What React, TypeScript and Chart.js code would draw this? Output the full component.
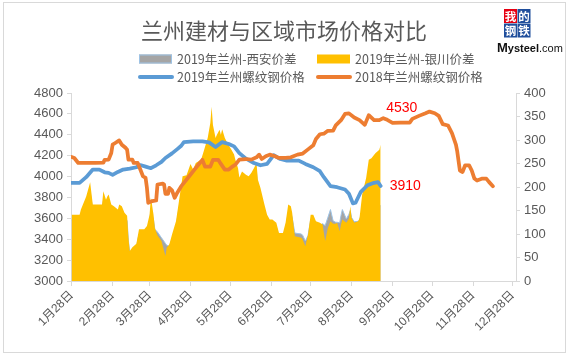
import React, { useEffect, useRef } from "react";
import { Chart, registerables } from "chart.js";

Chart.register(...registerables);

// ---------- text ----------
const TITLE = "兰州建材与区域市场价格对比";
const SERIES_NAMES = [
  "2019年兰州-西安价差",
  "2019年兰州-银川价差",
  "2019年兰州螺纹钢价格",
  "2018年兰州螺纹钢价格",
];

// ---------- axes ----------
const X_TICK_DATES = ["01-28", "02-28", "03-28", "04-28", "05-28", "06-28", "07-28", "08-28", "09-28", "10-28", "11-28", "12-28"];
const X_TICK_LABELS = ["1月28日", "2月28日", "3月28日", "4月28日", "5月28日", "6月28日", "7月28日", "8月28日", "9月28日", "10月28日", "11月28日", "12月28日"];
const PRICE_AXIS = { min: 3000, max: 4800, step: 200 };
const SPREAD_AXIS = { min: 0, max: 400, step: 50 };

// ---------- spreads (right axis) ----------
const spreadDates = [
  "01-28", "02-03", "02-04", "02-08", "02-11", "02-13", "02-20", "02-21", "02-23", "02-24",
  "02-25", "02-27", "03-01", "03-04", "03-05", "03-07", "03-09", "03-11", "03-12", "03-13",
  "03-15", "03-18", "03-20", "03-24", "03-26", "03-28", "03-29", "03-31", "04-01", "04-03",
  "04-06", "04-09", "04-10", "04-12", "04-14", "04-17", "04-19", "04-22", "04-25", "04-28",
  "04-30", "05-02", "05-06", "05-08", "05-11", "05-13", "05-14", "05-15", "05-17", "05-18",
  "05-20", "05-21", "05-22", "05-24", "05-26", "05-29", "05-31", "06-01", "06-03", "06-04",
  "06-06", "06-09", "06-11", "06-13", "06-15", "06-17", "06-18", "06-20", "06-23", "06-25",
  "06-27", "06-29", "07-02", "07-04", "07-07", "07-09", "07-11", "07-13", "07-14", "07-16",
  "07-21", "07-22", "07-24", "07-26", "07-28", "07-30", "08-01", "08-04", "08-06", "08-08",
  "08-10", "08-12", "08-14", "08-16", "08-17", "08-19", "08-20", "08-21", "08-24", "08-26",
  "08-27", "08-28", "08-30", "09-02", "09-03", "09-05", "09-08", "09-10", "09-12", "09-15",
  "09-18", "09-19",
];
const spreadXian = [
  130, 128, 135, 160, 190, 150, 152, 170, 160, 165,
  170, 150, 148, 140, 150, 148, 135, 128, 85, 60,
  66, 72, 100, 100, 108, 128, 150, 130, 110, 104,
  92, 80, 76, 74, 90, 115, 150, 200, 205, 225,
  220, 230, 240, 255, 280, 300, 320, 300, 285, 290,
  300, 295, 300, 285, 275, 262, 252, 242, 225, 205,
  215, 210, 208, 212, 222, 230, 200, 185, 150, 130,
  120, 120, 115, 95, 95, 112, 145, 145, 135, 102,
  100, 97, 85, 97, 130, 130, 120, 118, 122, 118,
  135, 152, 128, 125, 125, 124, 140, 152, 132, 142,
  150, 135, 126, 127, 130, 150, 155, 158, 158, 160,
  160, 160,
];
const spreadYinchuan = [
  141, 141, 152, 180, 210, 163, 163, 191, 173, 180,
  184, 163, 159, 152, 163, 159, 145, 139, 92, 64,
  72, 79, 110, 110, 117, 141, 178, 141, 113, 97,
  85, 53, 71, 78, 99, 127, 165, 223, 225, 249,
  237, 251, 258, 276, 304, 336, 371, 332, 304, 311,
  322, 311, 323, 304, 293, 279, 269, 258, 240, 220,
  233, 226, 223, 230, 240, 251, 216, 198, 163, 141,
  131, 131, 124, 102, 102, 124, 163, 159, 145, 95,
  92, 88, 74, 99, 141, 141, 127, 124, 120, 85,
  113, 127, 122, 122, 124, 106, 120, 131, 124, 133,
  159, 134, 124, 127, 134, 184, 219, 258, 261, 272,
  279, 290,
];

// ---------- 2019 rebar price (left axis) ----------
const price2019Dates = [
  "01-28", "02-03", "02-08", "02-13", "02-18", "02-22", "02-25", "02-28", "03-04", "03-08",
  "03-13", "03-18", "03-21", "03-25", "03-29", "04-02", "04-06", "04-09", "04-14", "04-18",
  "04-21", "04-23", "04-30", "05-07", "05-12", "05-17", "05-22", "05-27", "05-31", "06-04",
  "06-09", "06-15", "06-20", "06-25", "06-30", "07-05", "07-10", "07-19", "07-24", "07-30",
  "08-04", "08-07", "08-12", "08-17", "08-23", "08-26", "08-29", "08-31", "09-04", "09-09",
  "09-14", "09-17", "09-19",
];
const price2019 = [
  3940, 3940, 3994, 4067, 4067, 4041, 4035, 4016, 4044, 4067,
  4076, 4089, 4110, 4095, 4080, 4108, 4140, 4178, 4222, 4263,
  4295, 4330, 4337, 4337, 4327, 4283, 4330, 4311, 4289, 4225,
  4171, 4130, 4108, 4121, 4205, 4168, 4152, 4152, 4121, 4089,
  4051, 3994, 3908, 3898, 3876, 3835, 3743, 3749, 3854, 3917,
  3940, 3946, 3910,
];

// ---------- 2018 rebar price (left axis) ----------
const price2018Dates = [
  "01-28", "01-30", "02-02", "02-15", "02-21", "02-22", "02-25", "02-27", "02-28", "03-02",
  "03-05", "03-07", "03-10", "03-11", "03-12", "03-15", "03-16", "03-19", "03-21", "03-23",
  "03-25", "03-26", "03-27", "03-30", "04-02", "04-03", "04-07", "04-08", "04-09", "04-11",
  "04-12", "04-14", "04-16", "04-18", "04-21", "04-25", "04-27", "05-01", "05-05", "05-07",
  "05-09", "05-13", "05-15", "05-19", "05-21", "05-24", "05-27", "05-30", "06-01", "06-04",
  "06-09", "06-13", "06-17", "06-19", "06-21", "06-24", "06-27", "07-01", "07-04", "07-09",
  "07-13", "07-18", "07-22", "07-26", "07-30", "08-01", "08-04", "08-07", "08-10", "08-14",
  "08-16", "08-20", "08-23", "08-26", "08-30", "09-03", "09-07", "09-10", "09-14", "09-18",
  "09-21", "09-24", "09-28", "10-04", "10-11", "10-13", "10-18", "10-23", "10-26", "10-30",
  "11-02", "11-05", "11-09", "11-12", "11-15", "11-16", "11-18", "11-20", "11-22", "11-25",
  "11-27", "11-29", "12-01", "12-05", "12-08", "12-10", "12-13",
];
const price2018 = [
  4187, 4178, 4130, 4130, 4133, 4160, 4162, 4225, 4305, 4321,
  4346, 4305, 4273, 4257, 4162, 4162, 4130, 4130, 4067, 4003,
  3987, 3892, 3749, 3765, 3771, 3924, 3933, 3924, 3835, 3835,
  3892, 3867, 3797, 3845, 3908, 3971, 4003, 4067, 4130, 4160,
  4095, 4095, 4160, 4160, 4121, 4067, 4067, 4098, 4114, 4162,
  4168, 4162, 4184, 4210, 4168, 4194, 4210, 4194, 4178, 4178,
  4184, 4210, 4220, 4260, 4300, 4360, 4405, 4410, 4438, 4440,
  4490, 4540, 4600, 4605, 4565, 4540, 4495, 4588, 4540, 4540,
  4559, 4543, 4515, 4517, 4517, 4552, 4581, 4606, 4622, 4606,
  4581, 4502, 4489, 4416, 4305, 4241, 4057, 4044, 4108, 4108,
  4057, 3981, 3962, 3981, 3981, 3949, 3908,
];

// ---------- value callouts ----------
const callout2018 = { date: "10-05", value: 4530 };
const callout2019 = { date: "09-19", value: 3910 };

// ---------- colours ----------
const GREY = "#a5a5a5";
const GREY_EDGE = "#9dc3e6";
const GOLD = "#ffc000";
const BLUE = "#5b9bd5";
const ORANGE = "#ed7d31";
const TEXT = "#595959";
const AXIS = "#d9d9d9";

const LATIN = '"Liberation Sans", "Noto Sans CJK SC", sans-serif';
const CJK = '"Noto Sans CJK SC", "Liberation Sans", sans-serif';

// days since 28 Jan (same calendar for both years)
function dayOf(md: string): number {
  const [m, d] = md.split("-").map(Number);
  return (Date.UTC(2019, m - 1, d) - Date.UTC(2019, 0, 28)) / 86400000;
}
function pts(dates: string[], values: number[]) {
  return dates.map((d, i) => ({ x: dayOf(d), y: values[i] }));
}

const decorPlugin = {
  id: "decor",
  afterDraw(chart: any) {
    const ctx: CanvasRenderingContext2D = chart.ctx;
    ctx.save();

    // outer border
    ctx.strokeStyle = AXIS;
    ctx.lineWidth = 1;
    ctx.strokeRect(3.5, 2.5, 562, 350);

    // title
    ctx.fillStyle = TEXT;
    ctx.font = `22px ${CJK}`;
    ctx.textAlign = "center";
    ctx.textBaseline = "middle";
    ctx.fillText(TITLE, 284, 31);

    // legend (2 x 2)
    const cols = [139, 317];
    const rows = [59, 77];
    const ds = chart.data.datasets;
    ctx.font = `12.5px ${CJK}`;
    ctx.textAlign = "left";
    ds.forEach((d: any, i: number) => {
      const x = cols[i % 2];
      const y = rows[Math.floor(i / 2)];
      if (d.fill) {
        ctx.fillStyle = d.backgroundColor;
        ctx.fillRect(x, y - 4.5, 33, 9);
        if (d.borderWidth > 0) {
          ctx.strokeStyle = d.borderColor;
          ctx.lineWidth = 1;
          ctx.strokeRect(x + 0.5, y - 4, 32, 8);
        }
      } else {
        ctx.strokeStyle = d.borderColor;
        ctx.lineWidth = 4;
        ctx.lineCap = "round";
        ctx.beginPath();
        ctx.moveTo(x + 1, y);
        ctx.lineTo(x + 33, y);
        ctx.stroke();
      }
      ctx.fillStyle = TEXT;
      ctx.fillText(d.label, x + 38, y + 0.5);
    });

    // callouts
    const xs = chart.scales.x;
    const ys = chart.scales.y;
    ctx.fillStyle = "#ff0000";
    ctx.font = `14px ${LATIN}`;
    ctx.textAlign = "center";
    ctx.textBaseline = "bottom";
    ctx.fillText(String(callout2018.value), xs.getPixelForValue(dayOf(callout2018.date)), ys.getPixelForValue(callout2018.value) - 6);
    ctx.textAlign = "left";
    ctx.textBaseline = "middle";
    ctx.fillText(String(callout2019.value), xs.getPixelForValue(dayOf(callout2019.date)) + 9, ys.getPixelForValue(callout2019.value));

    // logo
    const boxes = [
      { t: "我", x: 504, y: 9, c: "#e60012" },
      { t: "的", x: 517.5, y: 9, c: "#1f4e9c" },
      { t: "钢", x: 504, y: 23.5, c: "#1f4e9c" },
      { t: "铁", x: 517.5, y: 23.5, c: "#1f4e9c" },
    ];
    ctx.font = `bold 11.5px ${CJK}`;
    ctx.textAlign = "center";
    ctx.textBaseline = "middle";
    boxes.forEach((b) => {
      ctx.fillStyle = b.c;
      ctx.fillRect(b.x, b.y, 13, 14);
      ctx.fillStyle = "#ffffff";
      ctx.fillText(b.t, b.x + 6.5, b.y + 7.5);
    });
    ctx.textAlign = "left";
    ctx.textBaseline = "alphabetic";
    ctx.fillStyle = "#111111";
    ctx.font = `bold 13px ${LATIN}`;
    ctx.fillText("M", 497, 52);
    const wM = ctx.measureText("M").width;
    ctx.font = `bold 11px ${LATIN}`;
    ctx.fillText("ysteel", 497 + wM, 52);
    const wY = ctx.measureText("ysteel").width;
    ctx.font = `11px ${LATIN}`;
    ctx.fillText(".com", 497 + wM + wY, 52);

    ctx.restore();
  },
};

export default function App() {
  const ref = useRef<HTMLCanvasElement | null>(null);

  useEffect(() => {
    if (!ref.current) return;
    const tickValues = X_TICK_DATES.map(dayOf);
    const chart = new Chart(ref.current, {
      type: "line",
      data: {
        datasets: [
          {
            label: SERIES_NAMES[0],
            data: pts(spreadDates, spreadXian),
            yAxisID: "y1",
            fill: "origin",
            backgroundColor: GREY,
            borderColor: GREY_EDGE,
            borderWidth: 1,
            pointRadius: 0,
            tension: 0,
            order: 4,
          },
          {
            label: SERIES_NAMES[1],
            data: pts(spreadDates, spreadYinchuan),
            yAxisID: "y1",
            fill: "origin",
            backgroundColor: GOLD,
            borderColor: GOLD,
            borderWidth: 0,
            pointRadius: 0,
            tension: 0,
            order: 3,
          },
          {
            label: SERIES_NAMES[2],
            data: pts(price2019Dates, price2019),
            yAxisID: "y",
            fill: false,
            borderColor: BLUE,
            backgroundColor: BLUE,
            borderWidth: 3.75,
            borderJoinStyle: "round",
            borderCapStyle: "round",
            pointRadius: 0,
            tension: 0,
            order: 2,
          },
          {
            label: SERIES_NAMES[3],
            data: pts(price2018Dates, price2018),
            yAxisID: "y",
            fill: false,
            borderColor: ORANGE,
            backgroundColor: ORANGE,
            borderWidth: 3.75,
            borderJoinStyle: "round",
            borderCapStyle: "round",
            pointRadius: 0,
            tension: 0,
            order: 1,
          },
        ] as any,
      },
      options: {
        animation: false,
        responsive: false,
        devicePixelRatio: 1,
        layout: { padding: { top: 93, left: 0, right: 0, bottom: 0 } },
        plugins: {
          legend: { display: false },
          title: { display: false },
          tooltip: { enabled: false },
        },
        scales: {
          x: {
            type: "linear",
            min: -0.5,
            max: 336.5,
            afterBuildTicks: (scale: any) => {
              scale.ticks = tickValues.map((v) => ({ value: v }));
            },
            afterFit: (scale: any) => {
              scale.height = 77;
            },
            ticks: {
              autoSkip: false,
              minRotation: 45,
              maxRotation: 45,
              padding: 2,
              color: TEXT,
              font: { family: LATIN, size: 12 },
              callback: (_v: any, i: number) => X_TICK_LABELS[i],
            },
            grid: { drawOnChartArea: false, drawTicks: true, tickLength: 5, color: AXIS },
            border: { color: AXIS, width: 1 },
          },
          y: {
            type: "linear",
            position: "left",
            min: PRICE_AXIS.min,
            max: PRICE_AXIS.max,
            afterFit: (scale: any) => {
              scale.width = 71;
            },
            ticks: {
              stepSize: PRICE_AXIS.step,
              padding: 4,
              color: TEXT,
              font: { family: LATIN, size: 13 },
              callback: (v: any) => String(v),
            },
            grid: { drawOnChartArea: false, drawTicks: true, tickLength: 4, color: AXIS },
            border: { color: AXIS, width: 1 },
          },
          y1: {
            type: "linear",
            position: "right",
            min: SPREAD_AXIS.min,
            max: SPREAD_AXIS.max,
            afterFit: (scale: any) => {
              scale.width = 57;
            },
            ticks: {
              stepSize: SPREAD_AXIS.step,
              padding: 4,
              color: TEXT,
              font: { family: LATIN, size: 13 },
              callback: (v: any) => String(v),
            },
            grid: { drawOnChartArea: false, drawTicks: true, tickLength: 4, color: AXIS },
            border: { color: AXIS, width: 1 },
          },
        },
      } as any,
      plugins: [decorPlugin],
    });
    return () => chart.destroy();
  }, []);

  return (
    <div style={{ position: "fixed", left: 0, top: 0, width: 573, height: 358, background: "#ffffff" }}>
      <canvas ref={ref} width={573} height={358} style={{ display: "block", width: 573, height: 358 }} />
    </div>
  );
}
